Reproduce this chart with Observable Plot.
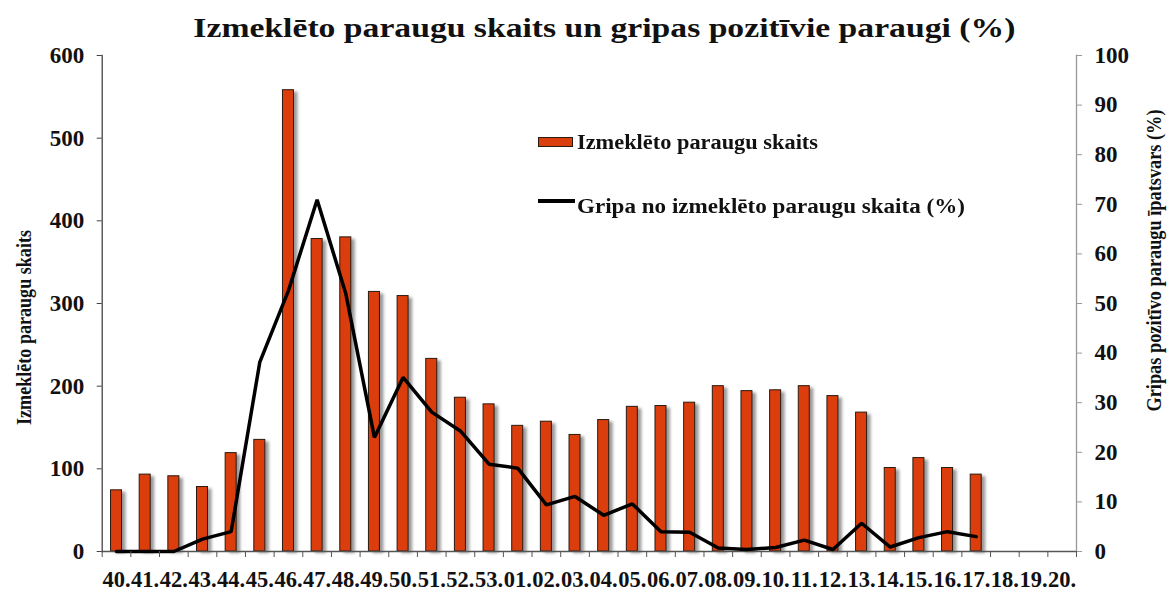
<!DOCTYPE html>
<html>
<head>
<meta charset="utf-8">
<script src="https://cdn.jsdelivr.net/npm/d3@7"></script>
<script src="https://cdn.jsdelivr.net/npm/@observablehq/plot@0.6"></script>
<style>
  html, body { margin: 0; padding: 0; background: #fff; }
  #wrap { position: relative; width: 1173px; height: 592px; overflow: hidden; }
  .leg { position: absolute; font-family: "Liberation Serif", serif; font-weight: bold; font-size: 20px; line-height: 24px; color: #111; white-space: nowrap; transform-origin: 0 50%; }
  .sw { position: absolute; }
</style>
</head>
<body>
<div id="wrap"></div>
<script>
// ---- data ----
const weeks = ["40.","41.","42.","43.","44.","45.","46.","47.","48.","49.","50.","51.","52.","53.",
               "01.","02.","03.","04.","05.","06.","07.","08.","09.","10.","11.","12.","13.","14.",
               "15.","16.","17.","18.","19.","20."];
const samples = [74, 93, 91, 78, 119, 135, 558, 378, 380, 314, 309, 233, 186, 178,
                 152, 157, 141, 159, 175, 176, 180, 200, 194, 195, 200, 188, 168, 101,
                 113, 101, 93, null, null, null];
const fluPct = [0, 0, 0, 2.5, 4.0, 38.2, 52.6, 70.9, 52.0, 23.0, 35.1, 28.1, 24.3, 17.6,
                16.8, 9.4, 11.1, 7.3, 9.6, 4.0, 3.9, 0.7, 0.4, 0.8, 2.3, 0.4, 5.7, 0.9,
                2.8, 4.0, 3.0, null, null, null];
const leftTicks = [0, 100, 200, 300, 400, 500, 600];
const rightTicks = [0, 10, 20, 30, 40, 50, 60, 70, 80, 90, 100];
const title = "Izmeklēto paraugu skaits un gripas pozitīvie paraugi (%)";
const yLeftLabel = "Izmeklēto paraugu skaits";
const yRightLabel = "Gripas pozitīvo paraugu īpatsvars (%)";
const legendBars = "Izmeklēto paraugu skaits";
const legendLine = "Gripa no izmeklēto paraugu skaita (%)";

const W = 1173, H = 592, mL = 101.7, mR = 97, mT = 55, mB = 41;
const ratio = 600 / 100; // right axis (%) mapped onto left scale
const step = (W - mL - mR) / weeks.length;
const frameH = H - mT - mB;
const barW = 11;

const rows = weeks.map((w, i) => ({week: w, n: samples[i], pct: fluPct[i] == null ? null : fluPct[i] * ratio}));
const barRows = rows.filter(d => d.n != null);
const lineRows = rows.filter(d => d.pct != null);

const font = "Liberation Serif";
const chart = Plot.plot({
  width: W, height: H,
  marginLeft: mL, marginRight: mR, marginTop: mT, marginBottom: mB,
  style: {fontFamily: font, fontWeight: "bold", fontSize: "23px", color: "#111", background: "transparent", overflow: "visible"},
  x: {type: "band", domain: weeks, padding: 0, round: false},
  y: {domain: [0, 600]},
  marks: [
    // bar shadows
    Plot.barY(barRows, {x: "week", y: "n", fill: "#000", fillOpacity: 0.4, dx: 4, dy: 2, insetLeft: (step - barW) / 2, insetRight: (step - barW) / 2, imageFilter: "blur(1.8px)"}),
    Plot.barY(barRows, {x: "week", y: "n", fill: "#dc3d0c", stroke: "#2a1a10", strokeWidth: 1, insetLeft: (step - barW) / 2, insetRight: (step - barW) / 2}),
    Plot.ruleY([0], {stroke: "#555", strokeWidth: 1.3}),
    Plot.frame({anchor: "left", stroke: "#444", strokeWidth: 1.3}),
    Plot.frame({anchor: "right", stroke: "#999", strokeWidth: 1.3}),
    Plot.line(lineRows, {x: "week", y: "pct", stroke: "#000", strokeWidth: 3.5, strokeLinejoin: "miter"}),
    // x-axis tick marks between categories
    Plot.ruleX(weeks, {x: d => d, dx: -step / 2, insetTop: frameH, insetBottom: -6, stroke: "#555"}),
    Plot.ruleX(weeks.slice(-1), {x: d => d, dx: step / 2, insetTop: frameH, insetBottom: -6, stroke: "#555"}),
    Plot.axisX({tickSize: 0, tickPadding: 20, fontSize: 22.5, fontWeight: "bold", label: null}),
    Plot.axisY(leftTicks, {anchor: "left", tickSize: 5, tickPadding: 13, stroke: "#444", fontSize: 23, label: null}),
    Plot.axisY(rightTicks.map(v => v * ratio), {anchor: "right", tickSize: 5, tickPadding: 13, stroke: "#999", fontSize: 23, label: null, tickFormat: d => Math.round(d / ratio)}),
    // titles
    Plot.text([title], {text: d => d, frameAnchor: "top", textAnchor: "middle", lineAnchor: "bottom", dy: -19, dx: 15, fontSize: 27, fontWeight: "bold"}),
    Plot.text([yLeftLabel], {text: d => d, frameAnchor: "left", textAnchor: "middle", rotate: -90, dx: -78, dy: 24, fontSize: 21, fontWeight: "bold"}),
    Plot.text([yRightLabel], {text: d => d, frameAnchor: "right", textAnchor: "middle", rotate: -90, dx: 78, dy: -43, fontSize: 21, fontWeight: "bold"})
  ]
});
const wrap = document.getElementById("wrap");
wrap.appendChild(chart);

// fit text widths to the reference's typesetting
const stretch = {[title]: 822, [yLeftLabel]: 195, [yRightLabel]: 302};
d3.select(chart).selectAll("text").each(function () {
  const t = this.textContent;
  if (stretch[t]) d3.select(this).attr("textLength", stretch[t]).attr("lengthAdjust", "spacingAndGlyphs");
});

// legend (HTML overlay)
function addLegend(text, left, top, targetWidth) {
  const sw = document.createElement("div");
  sw.className = "sw";
  wrap.appendChild(sw);
  const t = document.createElement("div");
  t.className = "leg";
  t.textContent = text;
  t.style.left = left + "px";
  t.style.top = top + "px";
  wrap.appendChild(t);
  const w = t.getBoundingClientRect().width;
  t.style.transform = `scaleX(${targetWidth / w})`;
  return sw;
}
const s1 = addLegend(legendBars, 577, 130, 241);
Object.assign(s1.style, {left: "538px", top: "137px", width: "33px", height: "8px", background: "#dc3d0c", border: "1px solid #2a1a10"});
const s2 = addLegend(legendLine, 577, 194, 388);
Object.assign(s2.style, {left: "538px", top: "199px", width: "37px", height: "3.5px", background: "#000"});
</script>
</body>
</html>
